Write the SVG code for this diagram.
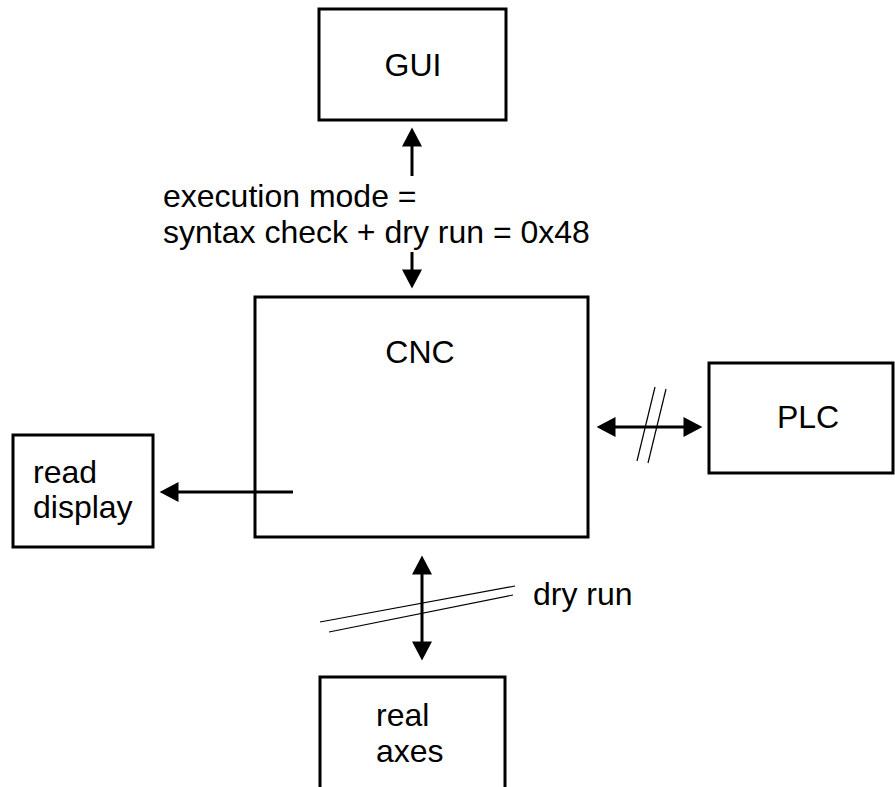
<svg xmlns="http://www.w3.org/2000/svg" width="895" height="787" viewBox="0 0 895 787">
<style>
.box{fill:#fff;stroke:#000;stroke-width:3}
.t{font-family:"Liberation Sans",Arial,sans-serif;font-size:32px;fill:#000}
.m{text-anchor:middle}
.c{stroke:#000;stroke-width:3;fill:none}
.h{stroke:#000;stroke-width:1.2;fill:none}
</style>
<defs>
<marker id="ah" markerUnits="userSpaceOnUse" markerWidth="20" markerHeight="20" viewBox="0 0 18 19" refX="10" refY="9.5" orient="auto-start-reverse">
<path d="M0,0 L18,9.5 L0,19 z" fill="#000"/>
</marker>
</defs>
<rect width="895" height="787" fill="#fff"/>
<g id="gui"><rect class="box" x="319" y="9" width="187" height="111"/><text class="t m" x="413" y="76">GUI</text></g>
<g id="cnc"><rect class="box" x="255" y="297" width="333" height="240"/><text class="t m" x="420" y="363">CNC</text></g>
<g id="plc"><rect class="box" x="709" y="363" width="184" height="110"/><text class="t m" x="808" y="428">PLC</text></g>
<g id="readdisplay"><rect class="box" x="13" y="435" width="140" height="112"/><text class="t" x="33" y="483">read</text><text class="t" x="33" y="518">display</text></g>
<g id="realaxes"><rect class="box" x="320" y="677" width="185" height="140"/><text class="t" x="376" y="726">real</text><text class="t" x="376" y="762">axes</text></g>
<g id="connectors">
<line class="c" x1="412" y1="176" x2="412" y2="136" marker-end="url(#ah)"/>
<line class="c" x1="412" y1="252" x2="412" y2="280" marker-end="url(#ah)"/>
<line class="c" x1="293" y1="492" x2="168" y2="492" marker-end="url(#ah)"/>
<line class="c" x1="605" y1="427" x2="694" y2="427" marker-start="url(#ah)" marker-end="url(#ah)"/>
<line class="c" x1="422" y1="564" x2="422" y2="652" marker-start="url(#ah)" marker-end="url(#ah)"/>
<line class="h" x1="637" y1="461" x2="655" y2="387"/>
<line class="h" x1="648" y1="463" x2="666" y2="389"/>
<line class="h" x1="320" y1="622" x2="515" y2="586"/>
<line class="h" x1="329" y1="632" x2="513" y2="595"/>
</g>
<g id="labels">
<text class="t" x="163" y="207">execution mode =</text>
<text class="t" x="163" y="243">syntax check + dry run = 0x48</text>
<text class="t" x="533" y="605">dry run</text>
</g>
</svg>
